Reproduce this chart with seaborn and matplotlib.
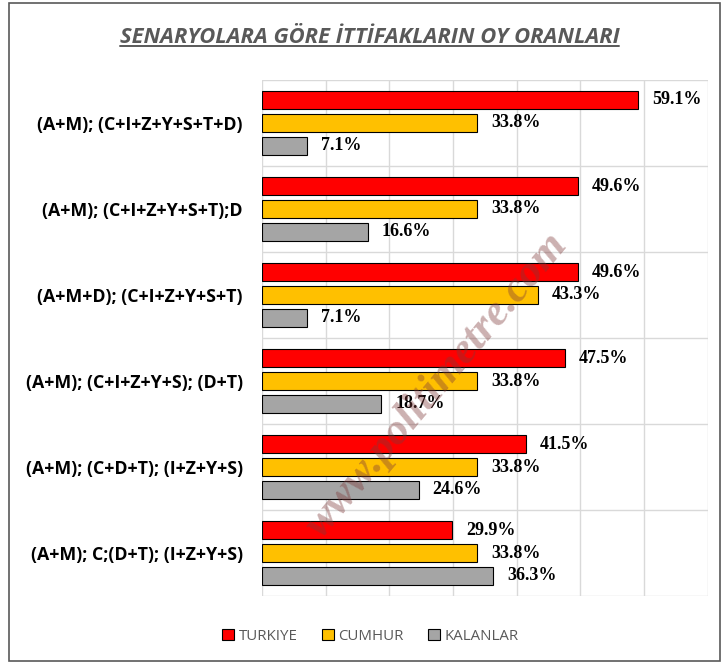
import numpy as np
import pandas as pd
import matplotlib.pyplot as plt
import seaborn as sns
from matplotlib.lines import Line2D
from matplotlib.patches import Rectangle, Patch

# Senaryolar ve oy oranlari
scenarios = ['(A+M); (C+I+Z+Y+S+T+D)', '(A+M); (C+I+Z+Y+S+T);D', '(A+M+D); (C+I+Z+Y+S+T)',
             '(A+M); (C+I+Z+Y+S); (D+T)', '(A+M); (C+D+T); (I+Z+Y+S)', '(A+M); C;(D+T); (I+Z+Y+S)']
series = ['TURKIYE', 'CUMHUR', 'KALANLAR']
turkiye = [59.1, 49.6, 49.6, 47.5, 41.5, 29.9]
cumhur = [33.8, 33.8, 43.3, 33.8, 33.8, 33.8]
kalanlar = [7.1, 16.6, 7.1, 18.7, 24.6, 36.3]
colors = ['#FF0000', '#FFC000', '#A5A5A5']

df = pd.DataFrame({'senaryo': scenarios * 3,
                   'ittifak': np.repeat(series, len(scenarios)),
                   'oran': turkiye + cumhur + kalanlar})

sns.set_style('white')
fig = plt.figure(figsize=(7.26, 6.66), dpi=100)
ax = fig.add_axes([0.361, 0.105, 0.614, 0.775])

sns.barplot(data=df, y='senaryo', x='oran', hue='ittifak', orient='h',
            palette=colors, saturation=1, width=0.8, gap=0.2, edgecolor='black', linewidth=0.8,
            legend=False, ax=ax, zorder=3)

for cont in ax.containers:
    ax.bar_label(cont, labels=[f'{v:.1f}%' for v in cont.datavalues], padding=10,
                 fontsize=13, fontweight='bold', family='Liberation Serif', color='black')

ax.set_xlim(0, 70)
ax.set_ylim(5.5, -0.5)
ax.set_xticks(np.arange(0, 71, 10))
ax.set_yticks(np.arange(-0.5, 6, 1), minor=True)
ax.grid(True, which='major', axis='x', color='#D9D9D9', lw=1, zorder=0)
ax.grid(True, which='minor', axis='y', color='#D9D9D9', lw=1, zorder=0)
ax.tick_params(axis='x', labelbottom=False, length=0)
ax.tick_params(axis='y', which='both', length=0, pad=14)
for lab in ax.get_yticklabels():
    lab.set_fontweight('bold')
    lab.set_fontsize(12.8)
    lab.set_family('Open Sans')
    lab.set_color('black')
for s in ax.spines.values():
    s.set_visible(False)
ax.set_xlabel('')
ax.set_ylabel('')

# title with underline
title = fig.text(0.509, 0.944, 'SENARYOLARA GÖRE İTTİFAKLARIN OY ORANLARI', ha='center', va='center',
                 fontsize=15.8, style='italic', fontweight='bold', family='Open Sans', color='#595959')
fig.canvas.draw()
bb = title.get_window_extent().transformed(fig.transFigure.inverted())
fig.add_artist(Line2D([bb.x0, bb.x1], [bb.y0 + 0.002, bb.y0 + 0.002], color='#595959', lw=1.4))

# watermark
fig.text(0.602, 0.422, 'www.politimetre.com', rotation=50, ha='center', va='center',
         fontsize=32, fontweight='bold', style='italic', family='Liberation Serif',
         color='#7F3A3A', alpha=0.4, zorder=5)

handles = [Patch(facecolor=c, edgecolor='black', lw=0.8) for c in colors]
leg = fig.legend(handles, series, loc='center', bbox_to_anchor=(0.51, 0.045), ncol=3, frameon=False,
                 handlelength=0.8, handleheight=0.8, handletextpad=0.3, columnspacing=1.6,
                 prop={'family': 'Open Sans', 'size': 10.8})
for t in leg.get_texts():
    t.set_color('#595959')

fig.add_artist(Rectangle((0.012, 0.007), 0.98, 0.988, transform=fig.transFigure,
                         fill=False, edgecolor='#595959', lw=1.2))

fig.savefig('out.png', dpi=100)
